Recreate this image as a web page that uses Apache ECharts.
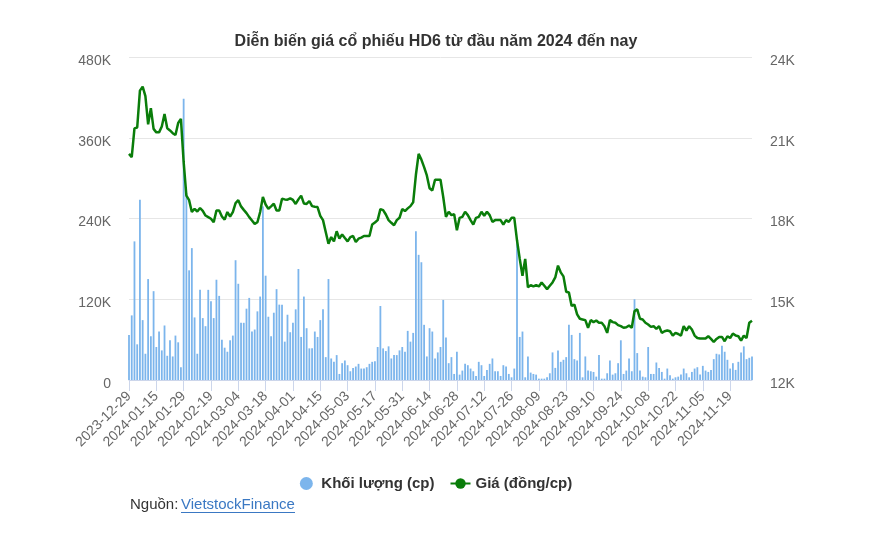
<!DOCTYPE html>
<html><head><meta charset="utf-8">
<script src="https://cdn.jsdelivr.net/npm/echarts@6/dist/echarts.min.js"></script>
<style>html,body{margin:0;padding:0;background:#fff}#c{width:872px;height:540px}</style>
</head><body><div id="c"></div><script>
// Trading calendar (HOSE/HNX) – categories
const startDate = '2023-12-29';
const endDate = '2024-11-29';
const holidays = ['2024-01-01','2024-02-08','2024-02-09','2024-02-12','2024-02-13','2024-02-14',
  '2024-04-18','2024-04-29','2024-04-30','2024-05-01','2024-09-02','2024-09-03'];

// Volume, thousand shares (Khối lượng)
const volume = [
 67,96,206,53,268,89,39,150,65,132, 49,72,44,81,36,59,35,66,56,19,
 418,278,163,196,93,39,134,92,80,134, 117,92,149,125,60,48,42,59,66,178,
 143,85,85,106,122,72,75,102,124,258, 155,94,65,100,135,112,112,57,97,71,
 85,105,165,64,124,77,47,47,72,64, 89,105,34,150,32,27,37,9,25,29,
 22,13,18,20,24,17,17,19,24,27, 28,49,110,47,43,50,32,37,37,44,
 49,42,73,57,70,221,186,175,82,35, 77,72,32,41,49,119,63,25,34,9,
 42,8,14,24,22,17,13,6,27,22, 6,15,24,32,13,13,6,22,20,9,
 4,17,210,64,72,4,35,11,9,8, 2,2,2,4,10,41,18,44,27,30,
 34,82,67,31,29,70,4,35,14,13, 12,5,37,2,2,10,29,8,10,25,
 59,9,14,32,13,120,40,14,5,4, 49,9,9,26,18,12,2,17,7,2,
 4,5,8,17,10,4,12,17,19,8, 21,14,12,15,31,39,38,51,42,30,
 17,25,15,27,41,50,31,33,35
];

// Price, VND per share (Giá)
const price = [
 20400,20280,21350,21380,22750,22900,22550,21500,22100,21330,
 21200,21200,21420,21880,21350,21270,21170,21100,21550,21700,
 20100,18850,18680,18240,18360,18260,18390,18280,18110,18050,
 17990,17860,18300,18300,18075,17960,18240,18075,18240,18570,
 18680,18450,18320,18200,18050,17925,17800,17860,18240,18800,
 18520,18360,18450,18550,18300,18300,18730,18710,18700,18750,
 18690,18540,18710,18850,18560,18540,18650,18460,18440,18425,
 18100,17940,17500,17060,17310,17150,17525,17250,17410,17275,
 17150,17310,17350,17125,17250,17290,17350,17350,17350,17775,
 17850,17940,18350,18310,18150,17940,17840,17750,17940,18025,
 18350,18275,18375,18460,18600,19625,20400,20190,19910,19600,
 19125,19040,19440,19440,19440,18800,18060,18250,18125,18160,
 17560,18025,18060,18250,18125,17940,17775,18025,18060,18250,
 18100,18250,18125,17875,17940,17940,17940,17775,17940,17875,
 18025,18025,17190,16500,15875,16500,15440,15525,15475,15525,
 15475,15625,15500,15375,15500,15625,15810,16250,16000,15850,
 15280,15250,14750,14800,14440,14275,14250,14225,13940,14225,
 14150,14210,14125,14125,14000,13750,14225,14150,14125,14040,
 14000,13940,13960,14025,13940,14560,14625,14275,14250,14125,
 14060,13975,14000,13900,14000,13750,13810,13840,13810,13650,
 13750,13710,13650,14000,13840,14000,13875,13650,13560,13540,
 13540,13540,13625,13525,13410,13525,13600,13600,13440,13625,
 13560,13725,13650,13625,13460,13650,13560,14125,14200
];

const titleText = 'Diễn biến giá cổ phiếu HD6 từ đầu năm 2024 đến nay';
const volName = 'Khối lượng (cp)';
const priceName = 'Giá (đồng/cp)';

function tradingDays(start, end, hol) {
  const out = [];
  const d = new Date(start + 'T00:00:00Z');
  const e = new Date(end + 'T00:00:00Z');
  while (d <= e) {
    const w = d.getUTCDay();
    const s = d.toISOString().slice(0, 10);
    if (w !== 0 && w !== 6 && hol.indexOf(s) < 0) out.push(s);
    d.setUTCDate(d.getUTCDate() + 1);
  }
  return out;
}
const dates = tradingDays(startDate, endDate, holidays);

const FONT = '"Liberation Sans", Arial, sans-serif';
const chart = echarts.init(document.getElementById('c'), null, {renderer: 'canvas'});
chart.setOption({
  animation: false,
  backgroundColor: '#ffffff',
  title: {
    text: titleText, left: 'center', top: 29,
    textStyle: {fontFamily: FONT, fontSize: 16, fontWeight: 'bold', color: '#333333'}
  },
  legend: {
    top: 471, left: 'center', itemGap: 15, itemWidth: 20, itemHeight: 13,
    textStyle: {fontFamily: FONT, fontSize: 15, fontWeight: 'bold', color: '#333333'},
    data: [{name: volName, icon: 'circle'}, {name: priceName}]
  },
  grid: {left: 129, right: 120, top: 57, bottom: 160, containLabel: false},
  xAxis: {
    type: 'category', data: dates, boundaryGap: false,
    axisLine: {lineStyle: {color: '#ccd6eb'}},
    axisTick: {show: true, interval: 9, length: 11, lineStyle: {color: '#ccd6eb'}},
    axisLabel: {interval: 9, rotate: 45, color: '#666666', fontFamily: FONT, fontSize: 14, margin: 14},
    splitLine: {show: false}
  },
  yAxis: [
    {
      type: 'value', min: 0, max: 480, interval: 120,
      axisLabel: {formatter: v => v === 0 ? '0' : v + 'K', color: '#666666', fontFamily: FONT, fontSize: 14, margin: 18, verticalAlign: 'top', lineHeight: 8},
      axisLine: {show: false}, axisTick: {show: false},
      splitLine: {lineStyle: {color: '#e6e6e6'}}
    },
    {
      type: 'value', min: 12000, max: 24000, interval: 3000,
      axisLabel: {formatter: v => (v / 1000) + 'K', color: '#666666', fontFamily: FONT, fontSize: 14, margin: 18, verticalAlign: 'top', lineHeight: 8},
      axisLine: {show: false}, axisTick: {show: false},
      splitLine: {show: false}
    }
  ],
  series: [
    {
      name: volName, type: 'bar', data: volume, yAxisIndex: 0,
      barWidth: 1.8, itemStyle: {color: '#7cb5ec'}
    },
    {
      name: priceName, type: 'line', data: price, yAxisIndex: 1,
      symbol: 'circle', symbolSize: 7, showSymbol: false,
      lineStyle: {color: '#0a7d0a', width: 2.5}, itemStyle: {color: '#0a7d0a'}
    }
  ],
  graphic: [
    {type: 'text', left: 130, top: 497, style: {text: 'Nguồn: ', fill: '#333333', font: '15px ' + FONT}},
    {type: 'text', left: 181, top: 497, style: {text: 'VietstockFinance', fill: '#3a78c3', font: '15px ' + FONT}},
    {type: 'line', shape: {x1: 181, y1: 512.5, x2: 295, y2: 512.5}, style: {stroke: '#3a78c3', lineWidth: 1}}
  ]
});
</script></body></html>
